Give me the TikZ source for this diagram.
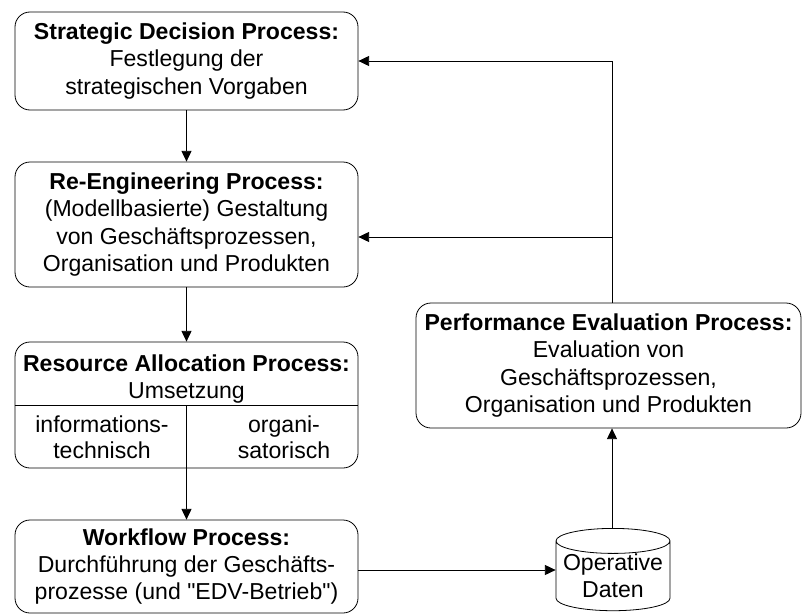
\documentclass[tikz,border=0pt]{standalone}
\usepackage{fontspec}
\setmainfont{Liberation Sans}
\usetikzlibrary{arrows.meta,shapes.geometric}
\newcommand{\pu}{0.75pt}
\tikzset{
  proc/.style={draw,rounded corners=15*\pu,minimum width=343*\pu,inner sep=0pt,
    align=center,font=\fontsize{17.3}{20.6}\selectfont},
  txt/.style={align=center,inner sep=0pt,font=\fontsize{17.3}{19.6}\selectfont},
  flow/.style={-{Triangle[length=8pt,width=7.5pt]}},
}

\begin{document}
\begin{tikzpicture}[x=\pu,y=-\pu,line width=0.6pt]
  \useasboundingbox (0,0) rectangle (802,614);
  % left column
  \node[proc,minimum height=98*\pu] (sdp) at (186.5,61)
    {\textbf{Strategic Decision Process:}\\Festlegung der\\strategischen Vorgaben};
  \node[proc,minimum height=125*\pu] (rep) at (186.5,224.5)
    {\textbf{Re-Engineering Process:}\\(Modellbasierte) Gestaltung\\von Geschäftsprozessen,\\Organisation und Produkten};
  \node[proc,minimum height=126*\pu] (rap) at (186.5,405) {};
  \node[txt] (raphead) at (186.5,379) {\textbf{Resource Allocation Process:}\\Umsetzung};
  \node[txt] (ratech) at (102,437.5) {informations-\\technisch};
  \node[txt] (raorg) at (284,437.5) {organi-\\satorisch};
  \draw (rap.west) -- (rap.east);
  \draw (rap.center) -- (rap.south);
  \node[proc,minimum height=93*\pu] (wfp) at (186.5,566.5)
    {\textbf{Workflow Process:}\\Durchführung der Geschäfts-\\prozesse (und \textquotedbl EDV-Betrieb\textquotedbl)};
  % right column
  \node[proc,minimum width=385*\pu,minimum height=125*\pu] (pep) at (608.5,365.5)
    {\textbf{Performance Evaluation Process:}\\Evaluation von\\Geschäftsprozessen,\\Organisation und Produkten};
  \node[draw,cylinder,shape border rotate=90,aspect=0.25,minimum width=114*\pu,
    minimum height=77*\pu,inner sep=0pt,align=center,
    font=\fontsize{17.3}{20.6}\selectfont] (daten) at (613,576) {Operative\\Daten};
  \coordinate (riser) at (612,61);
  \coordinate (branch) at (612,237);
  \coordinate (feed) at (0,570);
  % connectors
  \draw[flow] (sdp) -- (rep);
  \draw[flow] (rep) -- (rap);
  \draw[flow] (rap) -- (wfp);
  \draw[flow] (wfp.east |- feed) -- (daten.west |- feed);
  \draw[flow] (daten.north -| riser) -- (pep.south -| riser);
  \draw[flow] (pep.north -| riser) -- (riser) -- (sdp.east);
  \draw[flow] (branch) -- (branch -| rep.east);
\end{tikzpicture}
\end{document}
